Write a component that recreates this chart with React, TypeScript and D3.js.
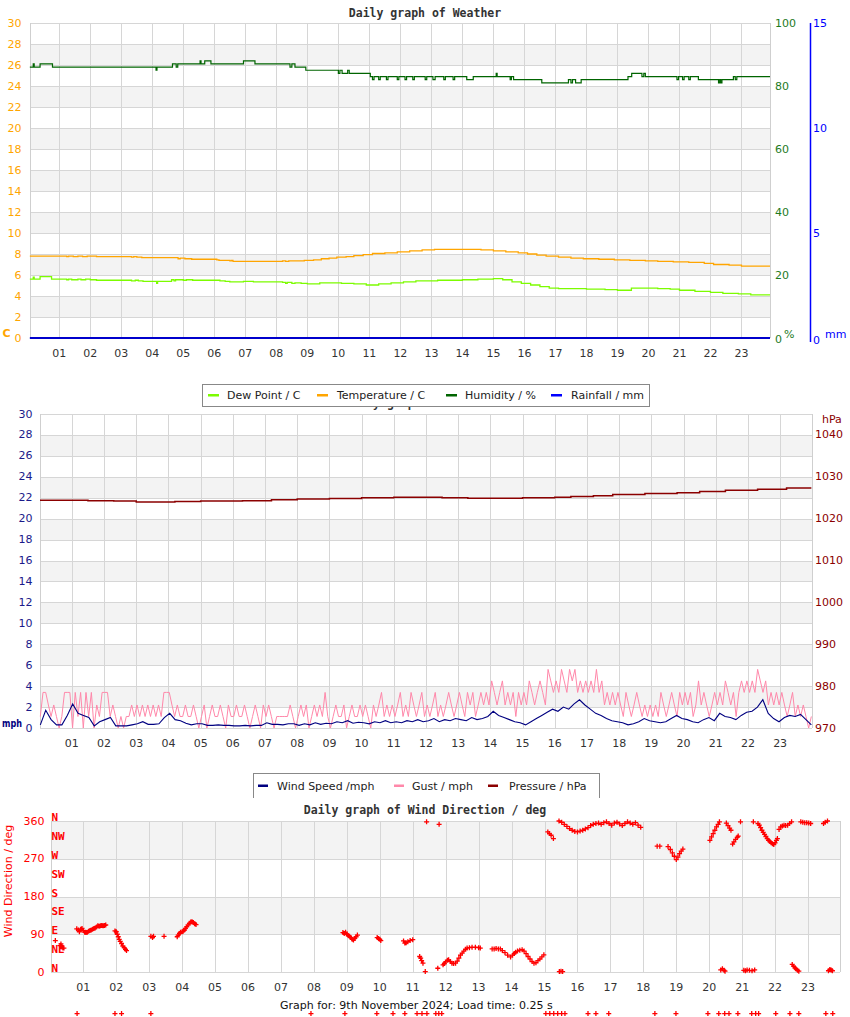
import React from "react";
import * as d3 from "d3";

// ---------------- DATA ----------------
const hourLabels = ["01","02","03","04","05","06","07","08","09","10","11","12","13","14","15","16","17","18","19","20","21","22","23"];
const hourValues = [1,2,3,4,5,6,7,8,9,10,11,12,13,14,15,16,17,18,19,20,21,22,23];

const tempTicks = [0,2,4,6,8,10,12,14,16,18,20,22,24,26,28,30];
const humidityTicks = [0,20,40,60,80,100];
const rainTicks = [0,5,10,15];
const pressureTicks = [970,980,990,1000,1010,1020,1030,1040];
const dirTicks = [0,90,180,270,360];
const compassDegs = [0,45,90,135,180,225,270,315,360];
const compassNames = ["N","NE","E","SE","S","SW","W","NW","N"];

// [hour, %] step breakpoints
const humidity: [number, number][] = [
  [0.05,86],[0.16,87],[0.19,86],[0.38,87],[0.78,86],[4.12,85],[4.15,86],[4.65,87],[4.77,86],[4.82,87],
  [5.54,88],[5.57,87],[5.69,88],[5.89,87],[6.94,88],[7.31,87],[8.44,86],[8.5,87],[8.6,86],[8.95,85],
  [10.0,84],[10.05,85],[10.12,84],[10.3,85],[10.35,84],[11.03,83],[11.1,82],[11.15,83],[11.3,82],[11.35,83],
  [11.55,82],[11.6,83],[11.9,82],[11.95,83],[12.15,82],[12.2,83],[12.4,82],[12.45,83],[12.8,82],[12.85,83],
  [13.05,82],[13.12,83],[13.4,82],[13.45,83],[13.7,82],[13.75,83],[14.14,82],[14.35,83],[15.09,84],[15.12,83],
  [15.54,82],[15.58,83],[15.65,82],[16.56,81],[17.42,82],[17.5,81],[17.55,82],[17.65,81],[17.83,82],[19.34,83],
  [19.46,84],[19.79,83],[19.85,84],[19.9,83],[20.92,82],[20.97,83],[21.1,82],[21.15,83],[21.3,82],[21.35,83],
  [21.61,82],[22.26,81],[22.3,82],[22.33,81],[22.37,82],[22.74,83],[22.8,82],[22.85,83],[23.92,83]
];

// [hour, °C]
const temperature: [number, number][] = [
  [0.05,7.8],[1.24,7.75],[1.3,7.8],[1.45,7.75],[1.6,7.8],[1.75,7.75],[1.9,7.8],[2.2,7.75],[3.33,7.7],[3.4,7.75],
  [3.5,7.7],[3.66,7.65],[4.83,7.55],[4.9,7.6],[5.05,7.55],[5.27,7.5],[6.08,7.45],[6.15,7.4],[6.5,7.35],[6.55,7.4],
  [6.6,7.3],[8.2,7.35],[8.3,7.3],[8.4,7.35],[8.6,7.35],[8.9,7.4],[9.2,7.45],[9.45,7.55],[9.7,7.6],[9.95,7.7],
  [10.25,7.75],[10.5,7.85],[10.8,7.95],[11.1,8.05],[11.5,8.1],[11.9,8.2],[12.3,8.3],[12.7,8.4],[13.1,8.45],[14.6,8.4],
  [15.0,8.3],[15.4,8.2],[15.8,8.1],[16.1,8.0],[16.4,7.9],[16.7,7.8],[17.1,7.7],[17.5,7.6],[17.9,7.55],[18.4,7.5],
  [18.9,7.45],[19.4,7.4],[19.9,7.35],[20.3,7.3],[20.8,7.25],[21.3,7.2],[21.8,7.1],[22.1,7.0],[22.6,6.95],[23.0,6.85],
  [23.92,6.85]
];

// [hour, °C]
const dewPoint: [number, number][] = [
  [0.05,5.6],[0.16,5.8],[0.19,5.6],[0.38,5.85],[0.75,5.6],[1.24,5.55],[1.3,5.6],[1.4,5.55],[1.6,5.6],[1.7,5.55],
  [1.85,5.6],[2.0,5.55],[2.2,5.5],[3.33,5.45],[3.45,5.5],[3.55,5.45],[3.7,5.4],[4.14,5.2],[4.17,5.4],[4.62,5.55],
  [4.7,5.45],[4.75,5.55],[5.0,5.5],[5.1,5.55],[5.3,5.5],[6.18,5.45],[6.35,5.4],[6.5,5.35],[6.94,5.4],[7.26,5.35],
  [8.2,5.3],[8.3,5.2],[8.35,5.3],[8.5,5.2],[8.6,5.25],[8.8,5.2],[9.0,5.15],[9.4,5.25],[10.1,5.2],[10.5,5.15],
  [10.9,5.05],[11.3,5.15],[11.7,5.25],[12.1,5.35],[12.5,5.45],[13.2,5.5],[14.0,5.55],[14.5,5.6],[15.0,5.65],[15.3,5.55],
  [15.6,5.35],[15.9,5.2],[16.2,5.05],[16.5,4.9],[16.8,4.75],[17.1,4.7],[18.0,4.65],[18.6,4.6],[19.0,4.55],[19.45,4.75],
  [20.3,4.7],[20.7,4.65],[21.0,4.55],[21.5,4.45],[22.0,4.35],[22.4,4.25],[22.9,4.2],[23.3,4.1],[23.92,4.1]
];

const rainfall: [number, number][] = [[0.05,0],[23.92,0]];

// [hour, hPa]
const pressure: [number, number][] = [
  [0.01,1024.4],[1.5,1024.3],[2.3,1024.2],[3.0,1024.0],[4.2,1024.1],[5.0,1024.2],[6.3,1024.3],[7.2,1024.5],
  [8.0,1024.7],[9.0,1024.8],[10.0,1025.0],[11.0,1025.1],[12.5,1025.0],[13.3,1024.9],[15.0,1025.0],[16.0,1025.1],
  [16.5,1025.3],[17.2,1025.5],[17.8,1025.8],[18.8,1026.0],[19.8,1026.2],[20.5,1026.5],[21.3,1026.8],[22.3,1027.0],
  [23.2,1027.3],[23.97,1027.3]
];

// wind speed, mph, every 10 minutes (one row per hour)
const windSpeed: number[] = [
  0.3,1.7,0.8,0.3,0.3,1.2,
  2.3,1.4,1.2,1.0,0.2,0.6,
  0.8,1.0,0.2,0.2,0.2,0.3,
  0.4,0.6,0.35,0.35,0.4,1.0,
  1.4,0.8,0.7,0.45,0.3,0.4,
  0.4,0.25,0.25,0.3,0.25,0.25,
  0.2,0.2,0.25,0.2,0.25,0.25,
  0.5,0.35,0.35,0.3,0.4,0.4,
  0.25,0.4,0.3,0.5,0.35,0.45,
  0.4,0.6,0.5,0.7,0.45,0.55,
  0.5,0.4,0.6,0.5,0.7,0.5,
  0.6,0.5,0.7,0.6,0.8,0.6,
  0.7,0.9,0.6,0.8,0.7,0.9,
  0.8,0.7,1.0,0.8,0.9,1.1,
  1.6,1.2,1.0,0.8,0.6,0.5,
  0.3,0.6,0.9,1.2,1.5,1.8,
  1.6,2.0,1.8,2.3,2.7,2.2,
  1.8,1.4,1.2,0.9,0.7,0.6,
  0.5,0.3,0.4,0.6,0.9,0.7,
  0.6,0.5,0.6,0.9,1.2,0.9,
  0.8,0.6,0.5,0.8,1.0,0.7,
  1.4,1.1,1.0,0.8,1.2,1.5,
  1.6,2.0,2.7,1.4,0.9,0.6,
  1.0,1.2,1.1,1.3,0.8,0.3
];

// gust, mph, every 5 minutes (one row per hour)
const gust: number[] = [
  1.1,3.4,3.4,2.2,1.1,2.2,1.1,0,1.1,3.4,3.4,3.4,
  0,3.4,1.1,3.4,0,3.4,1.1,3.4,0,2.2,1.1,3.4,
  3.4,3.4,1.1,2.2,1.1,0,1.1,0,1.1,1.1,2.2,1.1,
  2.2,1.1,2.2,1.1,2.2,1.1,2.2,1.1,2.2,1.1,3.4,3.4,
  3.4,2.2,1.1,2.2,1.1,1.1,2.2,1.1,1.1,2.2,1.1,0,
  1.1,2.2,0,1.1,2.2,1.1,1.1,2.2,1.1,0,2.2,1.1,
  1.1,2.2,1.1,1.1,2.2,1.1,0,1.1,2.2,1.1,0,2.2,
  1.1,2.2,1.1,0,1.1,1.1,1.1,1.1,1.1,2.2,1.1,0,
  1.1,2.2,1.1,2.2,0,1.1,2.2,1.1,2.2,1.1,3.4,1.1,
  0,1.1,2.2,1.1,1.1,2.2,0,1.1,2.2,1.1,1.1,2.2,
  1.1,2.2,1.1,0,2.2,1.1,2.2,3.4,1.1,2.2,1.1,2.2,
  1.1,2.2,3.4,1.1,2.2,1.1,3.4,2.2,1.1,2.2,3.4,1.1,
  2.2,1.1,2.2,3.4,1.1,2.2,1.1,2.2,3.4,2.2,1.1,2.2,
  3.4,2.2,1.1,3.4,2.2,3.4,1.1,2.2,3.4,2.2,3.4,2.2,
  4.5,3.4,2.2,3.4,4.5,2.2,3.4,2.2,3.4,1.1,3.4,2.2,
  3.4,2.2,4.5,3.4,2.2,3.4,4.5,3.4,2.2,5.6,4.5,3.4,
  4.5,3.4,5.6,4.5,3.4,5.6,4.5,5.6,3.4,4.5,3.4,4.5,
  3.4,4.5,3.4,5.6,3.4,4.5,2.2,3.4,2.2,3.4,2.2,3.4,
  2.2,1.1,3.4,2.2,1.1,2.2,3.4,2.2,1.1,2.2,1.1,2.2,
  1.1,2.2,1.1,3.4,2.2,1.1,2.2,3.4,2.2,1.1,3.4,2.2,
  3.4,2.2,3.4,1.1,2.2,4.5,2.2,3.4,2.2,1.1,2.2,3.4,
  2.2,3.4,2.2,4.5,3.4,2.2,3.4,1.1,3.4,4.5,3.4,4.5,
  3.4,4.5,3.4,5.6,4.5,3.4,4.5,2.2,3.4,2.2,3.4,2.2,
  3.4,2.2,1.1,2.2,3.4,1.1,2.2,1.1,2.2,1.1,0,1.1
];

// [hour, degrees]
const windDir: [number, number][] = [
  [0.15,75],[0.29,63],[0.32,67],[0.35,60],[0.38,57],[0.41,57],
  [0.8,103],[0.85,100],[0.88,96],[0.92,102],[0.96,104],[1.0,99],[1.04,95],[1.08,94],[1.12,95],[1.16,97],[1.2,99],
  [1.24,100],[1.28,102],[1.32,104],[1.36,105],[1.4,107],[1.44,110],[1.48,109],[1.52,110],[1.56,111],[1.6,110],[1.64,111],[1.68,112],
  [1.96,98],[2.0,96],[2.03,90],[2.06,84],[2.09,78],[2.12,73],[2.16,68],[2.2,62],[2.24,58],[2.28,54],[2.31,51],
  [3.05,85],[3.1,82],[3.13,85],[3.45,85],
  [3.85,84],[3.88,88],[3.92,92],[3.95,95],[4.0,96],[4.03,97],[4.07,100],[4.1,104],[4.14,108],[4.18,112],[4.22,116],
  [4.26,119],[4.3,120],[4.34,118],[4.38,115],[4.42,113],
  [8.88,94],[8.92,92],[8.96,95],[9.0,90],[9.04,87],[9.08,85],[9.12,82],[9.16,78],[9.2,76],[9.24,80],[9.28,84],[9.32,88],
  [9.92,82],[9.96,80],[10.0,78],[10.03,75],
  [10.72,74],[10.76,69],[10.8,70],[10.85,72],[10.92,75],[11.0,77],
  [11.21,37],[11.24,33],[11.27,27],[11.31,21],[11.38,1],[11.42,358],[11.76,9],[11.8,352],
  [11.92,17],[11.96,20],[12.0,24],[12.05,28],[12.09,29],[12.14,25],[12.19,21],[12.24,20],[12.3,21],[12.35,26],[12.4,33],
  [12.45,40],[12.5,45],[12.55,50],[12.6,54],[12.65,57],[12.72,58],[12.8,59],[12.9,59],[13.0,58],[13.05,57],
  [13.41,55],[13.47,55],[13.53,56],[13.6,55],[13.66,55],[13.72,51],[13.8,46],[13.88,40],[13.97,36],[14.03,40],[14.08,44],
  [14.12,47],[14.18,50],[14.25,52],[14.32,53],[14.38,50],[14.44,44],[14.5,37],[14.56,31],[14.62,25],[14.68,21],[14.74,22],
  [14.8,27],[14.86,31],[14.92,36],[14.98,41],
  [15.1,334],[15.15,330],[15.2,326],[15.27,318],[15.45,1],[15.5,2],[15.55,1],
  [15.44,360],[15.52,357],[15.6,352],[15.68,347],[15.76,342],[15.84,338],[15.92,335],[16.0,334],[16.08,336],[16.16,338],
  [16.24,341],[16.32,344],[16.4,349],[16.48,352],[16.56,354],[16.64,355],[16.72,352],[16.8,356],[16.88,358],[16.96,354],
  [17.04,350],[17.12,355],[17.2,357],[17.28,353],[17.36,349],[17.44,354],[17.52,358],[17.6,355],[17.68,352],[17.76,356],
  [17.84,350],[17.92,345],
  [18.42,300],[18.5,300],[18.75,299],[18.82,292],[18.88,284],[18.94,276],[19.0,268],[19.05,274],[19.1,282],[19.15,288],[19.2,293],
  [20.02,314],[20.07,322],[20.12,330],[20.17,338],[20.22,346],[20.27,352],[20.31,358],
  [20.35,5],[20.4,8],[20.45,4],[20.48,2],
  [20.52,355],[20.57,349],[20.62,343],[20.66,338],
  [20.71,305],[20.75,310],[20.8,316],[20.85,321],[20.88,324],[20.95,358],
  [21.05,4],[21.1,3],[21.15,5],[21.22,4],[21.3,3],[21.38,5],
  [21.34,358],[21.48,354],[21.52,350],[21.56,344],[21.6,338],[21.64,333],[21.68,328],[21.72,323],[21.76,318],[21.8,314],
  [21.84,311],[21.88,308],[21.92,306],[21.96,304],[22.0,308],[22.04,314],[22.07,318],
  [22.12,340],[22.17,346],[22.22,348],[22.27,350],[22.32,349],[22.38,350],[22.44,354],[22.5,358],
  [22.52,18],[22.56,14],[22.6,10],[22.64,7],[22.68,4],[22.72,2],
  [22.78,358],[22.84,357],[22.9,356],[22.96,356],[23.02,355],[23.08,354],
  [23.47,354],[23.52,357],[23.59,360],
  [23.62,3],[23.66,6],[23.7,5],[23.74,3]
];

// markers drawn in the stray row under the wind direction graph (hours)
const dirRowTimes: number[] = [
  0.81,1.96,2.16,3.05,7.91,8.94,9.91,10.4,10.76,11.13,11.28,11.43,11.7,11.79,11.88,15.04,15.16,15.28,15.4,15.52,15.62,
  16.32,16.56,16.95,18.35,18.99,19.96,20.29,20.47,20.6,20.87,21.29,21.41,21.5,22.02,22.45,22.72,23.54,23.75
];
const dirRowValue = -99;

// ---------------- LAYOUT ----------------
const GRID = "#D6D6D6";
const BAND = "#F3F3F3";
const TICK_FONT = "DejaVu Sans";
const MONO = "DejaVu Sans Mono";

const P1 = { left: 30, right: 770, top: 23, bottom: 338, t0: 0.055, t1: 23.92 };
const P2 = { left: 40, right: 812, top: 414, bottom: 728, t0: 0.01, t1: 23.99 };
const P3 = { left: 50.5, right: 840, top: 821, bottom: 972, t0: 0.003, t1: 23.97 };

const bands2 = [[2,4],[6,8],[10,12],[14,16],[18,20],[22,24],[26,28]];
const bands3 = [[90,180],[270,360]];

function Grid({ p, x, y, ticks, bands }: any) {
  return (
    <g shapeRendering="crispEdges">
      {bands.map((b: number[]) => (
        <rect key={"b" + b[0]} x={p.left} width={p.right - p.left} y={y(b[1])} height={y(b[0]) - y(b[1])} fill={BAND} />
      ))}
      {ticks.map((v: number) => (
        <line key={"h" + v} x1={p.left} x2={p.right} y1={Math.round(y(v)) + 0.5} y2={Math.round(y(v)) + 0.5} stroke={GRID} />
      ))}
      {hourValues.map((h) => (
        <line key={"v" + h} x1={Math.round(x(h)) + 0.5} x2={Math.round(x(h)) + 0.5} y1={p.top} y2={p.bottom} stroke={GRID} />
      ))}
      <line x1={p.left + 0.5} x2={p.left + 0.5} y1={p.top} y2={p.bottom} stroke="#CFCFCF" />
      <line x1={p.right + 0.5} x2={p.right + 0.5} y1={p.top} y2={p.bottom} stroke="#CFCFCF" />
    </g>
  );
}

function XLabels({ x, y }: any) {
  return (
    <g fontFamily={TICK_FONT} fontSize={11} fill="#333" textAnchor="middle">
      {hourValues.map((h, i) => (
        <text key={h} x={x(h)} y={y} dominantBaseline="central">{hourLabels[i]}</text>
      ))}
    </g>
  );
}

function Title({ text, y }: any) {
  return (
    <text x={425} y={y} textAnchor="middle" dominantBaseline="central" fontFamily={MONO} fontWeight="bold" fontSize={11.5} fill="#333">{text}</text>
  );
}

function Panel1() {
  const x = d3.scaleLinear().domain([P1.t0, P1.t1]).range([P1.left, P1.right]);
  const yT = d3.scaleLinear().domain([0, 30]).range([P1.bottom, P1.top]);
  const yH = d3.scaleLinear().domain([0, 100]).range([P1.bottom, P1.top]);
  const yR = d3.scaleLinear().domain([0, 15]).range([P1.bottom, P1.top]);
  const stepT = d3.line<[number, number]>().x(d => x(d[0])).y(d => yT(d[1])).curve(d3.curveStepAfter);
  const stepH = d3.line<[number, number]>().x(d => x(d[0])).y(d => yH(d[1])).curve(d3.curveStepAfter);
  const stepR = d3.line<[number, number]>().x(d => x(d[0])).y(d => yR(d[1]));
  return (
    <g>
      <Title text="Daily graph of Weather" y={13} />
      <Grid p={P1} x={x} y={yT} ticks={tempTicks} bands={bands2} />
      <path d={stepT(dewPoint) || ""} fill="none" stroke="#7CFC00" strokeWidth={1.3} />
      <path d={stepT(temperature) || ""} fill="none" stroke="#FFA500" strokeWidth={1.3} />
      <path d={stepH(humidity) || ""} fill="none" stroke="#006400" strokeWidth={1.2} />
      <path d={stepR(rainfall) || ""} fill="none" stroke="#0000CC" strokeWidth={2} />
      <g fontFamily={TICK_FONT} fontSize={11} fill="#FFA500" textAnchor="end">
        {tempTicks.map(v => <text key={v} x={21.5} y={yT(v)} dominantBaseline="central">{v}</text>)}
      </g>
      <text x={2.5} y={333} fontFamily={TICK_FONT} fontWeight="bold" fontSize={11} fill="#FFA500" dominantBaseline="central">C</text>
      <g fontFamily={TICK_FONT} fontSize={11} fill="#1E7B1E">
        {humidityTicks.map(v => <text key={v} x={775} y={yH(v) + (v === 0 ? 1 : 0)} dominantBaseline="central">{v}</text>)}
        <text x={784} y={334} dominantBaseline="central">%</text>
      </g>
      <line x1={810.5} x2={810.5} y1={P1.top} y2={P1.bottom + 4} stroke="#0000FF" strokeWidth={1.5} />
      <g fontFamily={TICK_FONT} fontSize={11} fill="#0000FF">
        {rainTicks.map(v => <text key={v} x={813} y={yR(v) + (v === 0 ? 2 : 0)} dominantBaseline="central">{v}</text>)}
        <text x={825} y={334} dominantBaseline="central">mm</text>
      </g>
      <XLabels x={x} y={353} />
    </g>
  );
}

function Legend({ x0, x1, y0, y1, items, closed }: any) {
  return (
    <g>
      <rect x={x0} y={y0} width={x1 - x0} height={y1 - y0} fill="#fff" stroke="none" />
      {closed ? (
        <rect x={x0 + 0.5} y={y0 + 0.5} width={x1 - x0} height={y1 - y0} fill="none" stroke="#888" shapeRendering="crispEdges" />
      ) : (
        <path d={`M${x0 + 0.5},${y1}V${y0 + 0.5}H${x1 + 0.5}V${y1}`} fill="none" stroke="#888" shapeRendering="crispEdges" />
      )}
      {items.map((it: any) => (
        <g key={it.label}>
          <rect x={it.sx} y={(y0 + y1) / 2 - 1} width={it.sw} height={2.5} fill={it.color} />
          <text x={it.tx} y={(y0 + y1) / 2 + 0.5} fontFamily={TICK_FONT} fontSize={11} fill="#222" dominantBaseline="central">{it.label}</text>
        </g>
      ))}
    </g>
  );
}

function Panel2() {
  const x = d3.scaleLinear().domain([P2.t0, P2.t1]).range([P2.left, P2.right]);
  const yW = d3.scaleLinear().domain([0, 30]).range([P2.bottom, P2.top]);
  const yP = d3.scaleLinear().domain([970, 1045]).range([P2.bottom, P2.top]);
  const tWind = (i: number) => 0.02 + (i * 23.95) / (windSpeed.length - 1);
  const tGust = (i: number) => 0.02 + (i * 23.95) / (gust.length - 1);
  const windLine = d3.line<number>().x((d, i) => x(tWind(i))).y(d => yW(d));
  const gustLine = d3.line<number>().x((d, i) => x(tGust(i))).y(d => yW(d));
  const pLine = d3.line<[number, number]>().x(d => x(d[0])).y(d => yP(d[1])).curve(d3.curveStepAfter);
  return (
    <g>
      <Title text="Daily graph of Pressure" y={403} />
      <Grid p={P2} x={x} y={yW} ticks={tempTicks} bands={bands2} />
      <path d={gustLine(gust) || ""} fill="none" stroke="#FF88AA" strokeWidth={1} />
      <path d={windLine(windSpeed) || ""} fill="none" stroke="#000080" strokeWidth={1.1} />
      <path d={pLine(pressure) || ""} fill="none" stroke="#8B0000" strokeWidth={1.5} />
      <g fontFamily={TICK_FONT} fontSize={11} fill="#1A1A8A" textAnchor="end">
        {tempTicks.map(v => <text key={v} x={32.5} y={yW(v)} dominantBaseline="central">{v}</text>)}
      </g>
      <text x={2} y={723} fontFamily={TICK_FONT} fontWeight="bold" fontSize={10} fill="#000080" dominantBaseline="central" textLength={20} lengthAdjust="spacingAndGlyphs">mph</text>
      <g fontFamily={TICK_FONT} fontSize={11} fill="#8B0000">
        {pressureTicks.map(v => <text key={v} x={815} y={yP(v)} dominantBaseline="central">{v}</text>)}
        <text x={822} y={419} dominantBaseline="central">hPa</text>
      </g>
      <XLabels x={x} y={743} />
    </g>
  );
}

function Panel3() {
  const x = d3.scaleLinear().domain([P3.t0, P3.t1]).range([P3.left, P3.right]);
  const y = d3.scaleLinear().domain([0, 360]).range([P3.bottom, P3.top]);
  const plus = (px: number, py: number) => `M${px - 2.5},${py}h5M${px},${py - 2.5}v5`;
  const pts = windDir.map(d => plus(x(d[0]), y(d[1]))).join("");
  const rowPts = dirRowTimes.map(t => plus(x(t), y(dirRowValue))).join("");
  return (
    <g>
      <Title text="Daily graph of Wind Direction / deg" y={810} />
      <Grid p={P3} x={x} y={y} ticks={dirTicks} bands={bands3} />
      <path d={pts} fill="none" stroke="#FF0000" strokeWidth={1.3} />
      <path d={rowPts} fill="none" stroke="#FF0000" strokeWidth={1.3} />
      <g fontFamily={TICK_FONT} fontSize={11} fill="#FF0000" textAnchor="end">
        {dirTicks.map(v => <text key={v} x={44.5} y={y(v)} dominantBaseline="central">{v}</text>)}
      </g>
      <text transform={`translate(8,881) rotate(-90)`} textAnchor="middle" fontFamily={TICK_FONT} fontSize={11} fill="#FF0000" dominantBaseline="central">Wind Direction / deg</text>
      <g fontFamily={MONO} fontWeight="bold" fontSize={11} fill="#FF0000">
        {compassDegs.map((d, i) => (
          <text key={i} x={51.5} y={y(d) - 3.5} dominantBaseline="central">{compassNames[i]}</text>
        ))}
      </g>
      <XLabels x={x} y={987} />
    </g>
  );
}

export default function App() {
  return (
    <svg width={850} height={1017} viewBox="0 0 850 1017" style={{ position: "absolute", left: 0, top: 0, background: "#fff" }}>
      <rect x={0} y={0} width={850} height={1017} fill="#fff" />
      <Panel1 />
      <Panel2 />
      <Legend
        x0={202} x1={649} y0={384} y1={406} closed={true}
        items={[
          { label: "Dew Point / C", color: "#7CFC00", sx: 208, sw: 11, tx: 227 },
          { label: "Temperature / C", color: "#FFA500", sx: 317, sw: 11, tx: 337 },
          { label: "Humidity / %", color: "#006400", sx: 446, sw: 11, tx: 465 },
          { label: "Rainfall / mm", color: "#0000FF", sx: 551, sw: 11, tx: 571 },
        ]}
      />
      <Legend
        x0={253} x1={599} y0={773} y1={798} closed={false}
        items={[
          { label: "Wind Speed /mph", color: "#000080", sx: 258, sw: 10, tx: 277 },
          { label: "Gust / mph", color: "#FF88AA", sx: 394, sw: 10, tx: 412 },
          { label: "Pressure / hPa", color: "#8B0000", sx: 488, sw: 10, tx: 509 },
        ]}
      />
      <Panel3 />
      <text x={280} y={1005} fontFamily={TICK_FONT} fontSize={11} fill="#111" dominantBaseline="central">Graph for: 9th November 2024; Load time: 0.25 s</text>
    </svg>
  );
}
